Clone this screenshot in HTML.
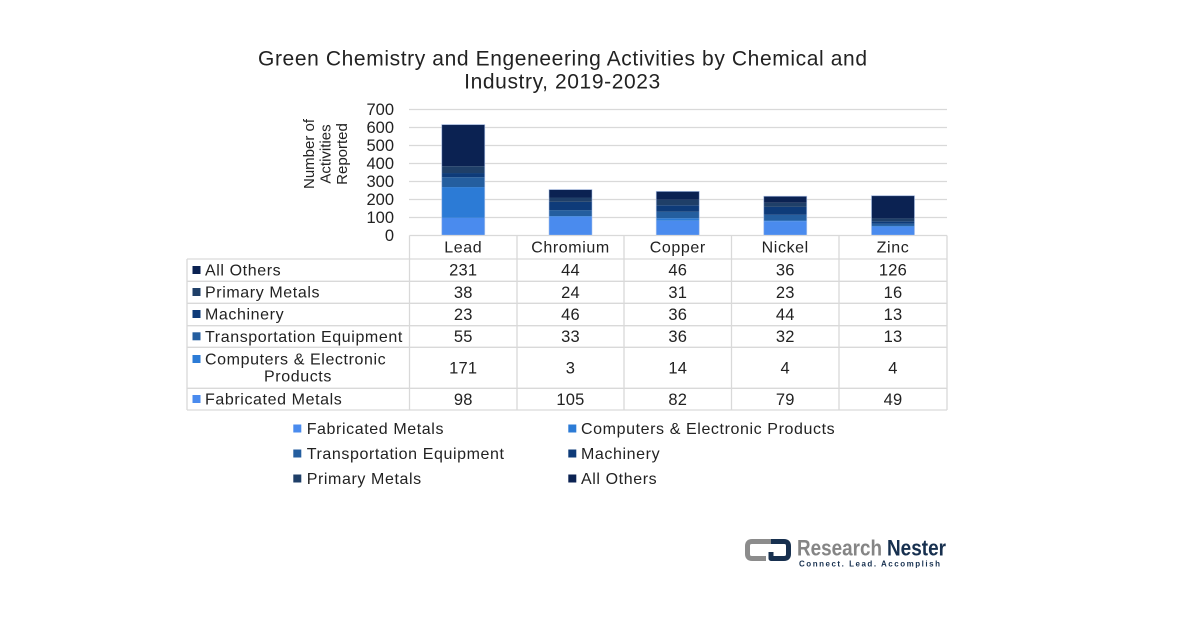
<!DOCTYPE html>
<html>
<head>
<meta charset="utf-8">
<style>
  html,body{margin:0;padding:0;background:#fff;}
  svg{display:block;}
  text{font-family:"Liberation Sans",Arial,sans-serif;fill:#222;}
  .lbl{font-size:16px;letter-spacing:0.6px;}
  .num{font-size:16.5px;letter-spacing:0.2px;text-anchor:middle;}
  .ax{font-size:16.5px;text-anchor:end;}
</style>
</head>
<body>
<svg width="1200" height="628" viewBox="0 0 1200 628" xmlns="http://www.w3.org/2000/svg">
  <rect width="1200" height="628" fill="#fff"/>

  <!-- Title -->
  <text x="562.5" y="65.5" font-size="21" text-anchor="middle" textLength="609" lengthAdjust="spacing">Green Chemistry and Engeneering Activities by Chemical and</text>
  <text x="562.5" y="88.5" font-size="21" text-anchor="middle" letter-spacing="0.6">Industry, 2019-2023</text>

  <!-- Gridlines -->
  <g stroke="#d9d9d9" stroke-width="1.2">
    <line x1="409" y1="109.5" x2="947" y2="109.5"/>
    <line x1="409" y1="127.5" x2="947" y2="127.5"/>
    <line x1="409" y1="145.5" x2="947" y2="145.5"/>
    <line x1="409" y1="163.5" x2="947" y2="163.5"/>
    <line x1="409" y1="181.5" x2="947" y2="181.5"/>
    <line x1="409" y1="199.5" x2="947" y2="199.5"/>
    <line x1="409" y1="217.5" x2="947" y2="217.5"/>
  </g>

  <!-- Y axis labels -->
  <text class="ax" x="394" y="115">700</text>
  <text class="ax" x="394" y="133">600</text>
  <text class="ax" x="394" y="151">500</text>
  <text class="ax" x="394" y="169">400</text>
  <text class="ax" x="394" y="187">300</text>
  <text class="ax" x="394" y="205">200</text>
  <text class="ax" x="394" y="223">100</text>
  <text class="ax" x="394" y="241">0</text>

  <!-- Y axis title -->
  <g font-size="15" text-anchor="middle">
    <text transform="translate(314,154) rotate(-90)">Number of</text>
    <text transform="translate(330.5,154) rotate(-90)">Activities</text>
    <text transform="translate(347,154) rotate(-90)">Reported</text>
  </g>

  <!-- Bars -->
  <!-- Lead -->
  <g>
    <rect x="441.75" y="217.86" width="43" height="17.64" fill="#4A8BEE"/>
    <rect x="441.75" y="187.08" width="43" height="30.78" fill="#2C7BD6"/>
    <rect x="441.75" y="177.18" width="43" height="9.9" fill="#245E9F"/>
    <rect x="441.75" y="173.04" width="43" height="4.14" fill="#0E3B79"/>
    <rect x="441.75" y="166.2" width="43" height="6.84" fill="#1F3F68"/>
    <rect x="441.75" y="124.62" width="43" height="41.58" fill="#0B2252"/>
    <rect x="441.75" y="124.62" width="43" height="110.88" fill="none" stroke="#a9c1ea" stroke-width="0.8" stroke-opacity="0.7"/>
  </g>
  <!-- Chromium -->
  <g>
    <rect x="549" y="216.6" width="43" height="18.9" fill="#4A8BEE"/>
    <rect x="549" y="216.06" width="43" height="0.54" fill="#2C7BD6"/>
    <rect x="549" y="210.12" width="43" height="5.94" fill="#245E9F"/>
    <rect x="549" y="201.84" width="43" height="8.28" fill="#0E3B79"/>
    <rect x="549" y="197.52" width="43" height="4.32" fill="#1F3F68"/>
    <rect x="549" y="189.6" width="43" height="7.92" fill="#0B2252"/>
    <rect x="549" y="189.6" width="43" height="45.9" fill="none" stroke="#a9c1ea" stroke-width="0.8" stroke-opacity="0.7"/>
  </g>
  <!-- Copper -->
  <g>
    <rect x="656.25" y="220.74" width="43" height="14.76" fill="#4A8BEE"/>
    <rect x="656.25" y="218.22" width="43" height="2.52" fill="#2C7BD6"/>
    <rect x="656.25" y="211.74" width="43" height="6.48" fill="#245E9F"/>
    <rect x="656.25" y="205.26" width="43" height="6.48" fill="#0E3B79"/>
    <rect x="656.25" y="199.68" width="43" height="5.58" fill="#1F3F68"/>
    <rect x="656.25" y="191.4" width="43" height="8.28" fill="#0B2252"/>
    <rect x="656.25" y="191.4" width="43" height="44.1" fill="none" stroke="#a9c1ea" stroke-width="0.8" stroke-opacity="0.7"/>
  </g>
  <!-- Nickel -->
  <g>
    <rect x="763.75" y="221.28" width="43" height="14.22" fill="#4A8BEE"/>
    <rect x="763.75" y="220.56" width="43" height="0.72" fill="#2C7BD6"/>
    <rect x="763.75" y="214.8" width="43" height="5.76" fill="#245E9F"/>
    <rect x="763.75" y="206.88" width="43" height="7.92" fill="#0E3B79"/>
    <rect x="763.75" y="202.74" width="43" height="4.14" fill="#1F3F68"/>
    <rect x="763.75" y="196.26" width="43" height="6.48" fill="#0B2252"/>
    <rect x="763.75" y="196.26" width="43" height="39.24" fill="none" stroke="#a9c1ea" stroke-width="0.8" stroke-opacity="0.7"/>
  </g>
  <!-- Zinc -->
  <g>
    <rect x="871.5" y="226.68" width="43" height="8.82" fill="#4A8BEE"/>
    <rect x="871.5" y="225.96" width="43" height="0.72" fill="#2C7BD6"/>
    <rect x="871.5" y="223.62" width="43" height="2.34" fill="#245E9F"/>
    <rect x="871.5" y="221.28" width="43" height="2.34" fill="#0E3B79"/>
    <rect x="871.5" y="218.4" width="43" height="2.88" fill="#1F3F68"/>
    <rect x="871.5" y="195.72" width="43" height="22.68" fill="#0B2252"/>
    <rect x="871.5" y="195.72" width="43" height="39.78" fill="none" stroke="#a9c1ea" stroke-width="0.8" stroke-opacity="0.7"/>
  </g>

  <!-- Data table lines -->
  <g stroke="#d9d9d9" stroke-width="1.3">
    <line x1="409.5" y1="235.5" x2="947" y2="235.5"/>
    <line x1="187" y1="259" x2="947" y2="259"/>
    <line x1="187" y1="281.3" x2="947" y2="281.3"/>
    <line x1="187" y1="303.3" x2="947" y2="303.3"/>
    <line x1="187" y1="325.7" x2="947" y2="325.7"/>
    <line x1="187" y1="347.3" x2="947" y2="347.3"/>
    <line x1="187" y1="388.3" x2="947" y2="388.3"/>
    <line x1="187" y1="410" x2="947" y2="410"/>
    <line x1="187" y1="259" x2="187" y2="410"/>
    <line x1="409.5" y1="235.5" x2="409.5" y2="410"/>
    <line x1="517" y1="235.5" x2="517" y2="410"/>
    <line x1="624" y1="235.5" x2="624" y2="410"/>
    <line x1="731.5" y1="235.5" x2="731.5" y2="410"/>
    <line x1="839" y1="235.5" x2="839" y2="410"/>
    <line x1="947" y1="235.5" x2="947" y2="410"/>
  </g>

  <!-- Header (categories) -->
  <g class="lbl" text-anchor="middle">
    <text x="463.25" y="252.7" text-anchor="middle">Lead</text>
    <text x="570.5" y="252.7" text-anchor="middle">Chromium</text>
    <text x="677.75" y="252.7" text-anchor="middle">Copper</text>
    <text x="785.25" y="252.7" text-anchor="middle">Nickel</text>
    <text x="893" y="252.7" text-anchor="middle">Zinc</text>
  </g>

  <!-- Row labels with keys -->
  <rect x="192.5" y="266" width="8" height="8" fill="#0B2252"/>
  <text class="lbl" x="205" y="275.5">All Others</text>
  <rect x="192.5" y="288" width="8" height="8" fill="#1F3F68"/>
  <text class="lbl" x="205" y="297.5">Primary Metals</text>
  <rect x="192.5" y="310" width="8" height="8" fill="#0E3B79"/>
  <text class="lbl" x="205" y="319.7">Machinery</text>
  <rect x="192.5" y="332.3" width="8" height="8" fill="#245E9F"/>
  <text class="lbl" x="205" y="341.8">Transportation Equipment</text>
  <rect x="192.5" y="355" width="8" height="8" fill="#2C7BD6"/>
  <text class="lbl" x="205" y="364.5">Computers &amp; Electronic</text>
  <text class="lbl" x="298" y="381.7" text-anchor="middle">Products</text>
  <rect x="192.5" y="395" width="8" height="8" fill="#4A8BEE"/>
  <text class="lbl" x="205" y="404.7">Fabricated Metals</text>

  <!-- Values -->
  <g class="num">
    <text x="463.25" y="275.7">231</text><text x="570.5" y="275.7">44</text><text x="677.75" y="275.7">46</text><text x="785.25" y="275.7">36</text><text x="893" y="275.7">126</text>
    <text x="463.25" y="297.8">38</text><text x="570.5" y="297.8">24</text><text x="677.75" y="297.8">31</text><text x="785.25" y="297.8">23</text><text x="893" y="297.8">16</text>
    <text x="463.25" y="320">23</text><text x="570.5" y="320">46</text><text x="677.75" y="320">36</text><text x="785.25" y="320">44</text><text x="893" y="320">13</text>
    <text x="463.25" y="342.2">55</text><text x="570.5" y="342.2">33</text><text x="677.75" y="342.2">36</text><text x="785.25" y="342.2">32</text><text x="893" y="342.2">13</text>
    <text x="463.25" y="373.6">171</text><text x="570.5" y="373.6">3</text><text x="677.75" y="373.6">14</text><text x="785.25" y="373.6">4</text><text x="893" y="373.6">4</text>
    <text x="463.25" y="404.9">98</text><text x="570.5" y="404.9">105</text><text x="677.75" y="404.9">82</text><text x="785.25" y="404.9">79</text><text x="893" y="404.9">49</text>
  </g>

  <!-- Legend -->
  <rect x="293.3" y="424.5" width="8" height="8" fill="#4A8BEE"/>
  <text class="lbl" x="306.7" y="434">Fabricated Metals</text>
  <rect x="568.3" y="424.5" width="8" height="8" fill="#2C7BD6"/>
  <text class="lbl" x="581" y="434">Computers &amp; Electronic Products</text>
  <rect x="293.3" y="449.5" width="8" height="8" fill="#245E9F"/>
  <text class="lbl" x="306.7" y="459">Transportation Equipment</text>
  <rect x="568.3" y="449.5" width="8" height="8" fill="#0E3B79"/>
  <text class="lbl" x="581" y="459">Machinery</text>
  <rect x="293.3" y="474.5" width="8" height="8" fill="#1F3F68"/>
  <text class="lbl" x="306.7" y="484">Primary Metals</text>
  <rect x="568.3" y="474.5" width="8" height="8" fill="#0B2252"/>
  <text class="lbl" x="581" y="484">All Others</text>

  <!-- Logo -->
  <g fill="none" stroke-linecap="butt" stroke-linejoin="round">
    <path d="M776,541.5 H752 Q747.5,541.5 747.5,546 V554 Q747.5,558.5 752,558.5 H766" stroke="#8c8c8c" stroke-width="5"/>
    <path d="M771,541.5 H784 Q788.5,541.5 788.5,546 V554 Q788.5,558.5 784,558.5 H771 V552" stroke="#17304f" stroke-width="5"/>
  </g>
  <text x="797" y="555.5" font-size="22" font-weight="bold" fill="#858585" style="fill:#858585" textLength="85" lengthAdjust="spacingAndGlyphs">Research</text>
  <text x="887" y="555.5" font-size="22" font-weight="bold" style="fill:#17304f" textLength="59" lengthAdjust="spacingAndGlyphs">Nester</text>
  <text x="799" y="566.5" font-size="8" font-weight="bold" style="fill:#17304f" textLength="141" lengthAdjust="spacing">Connect. Lead. Accomplish</text>
</svg>
</body>
</html>
